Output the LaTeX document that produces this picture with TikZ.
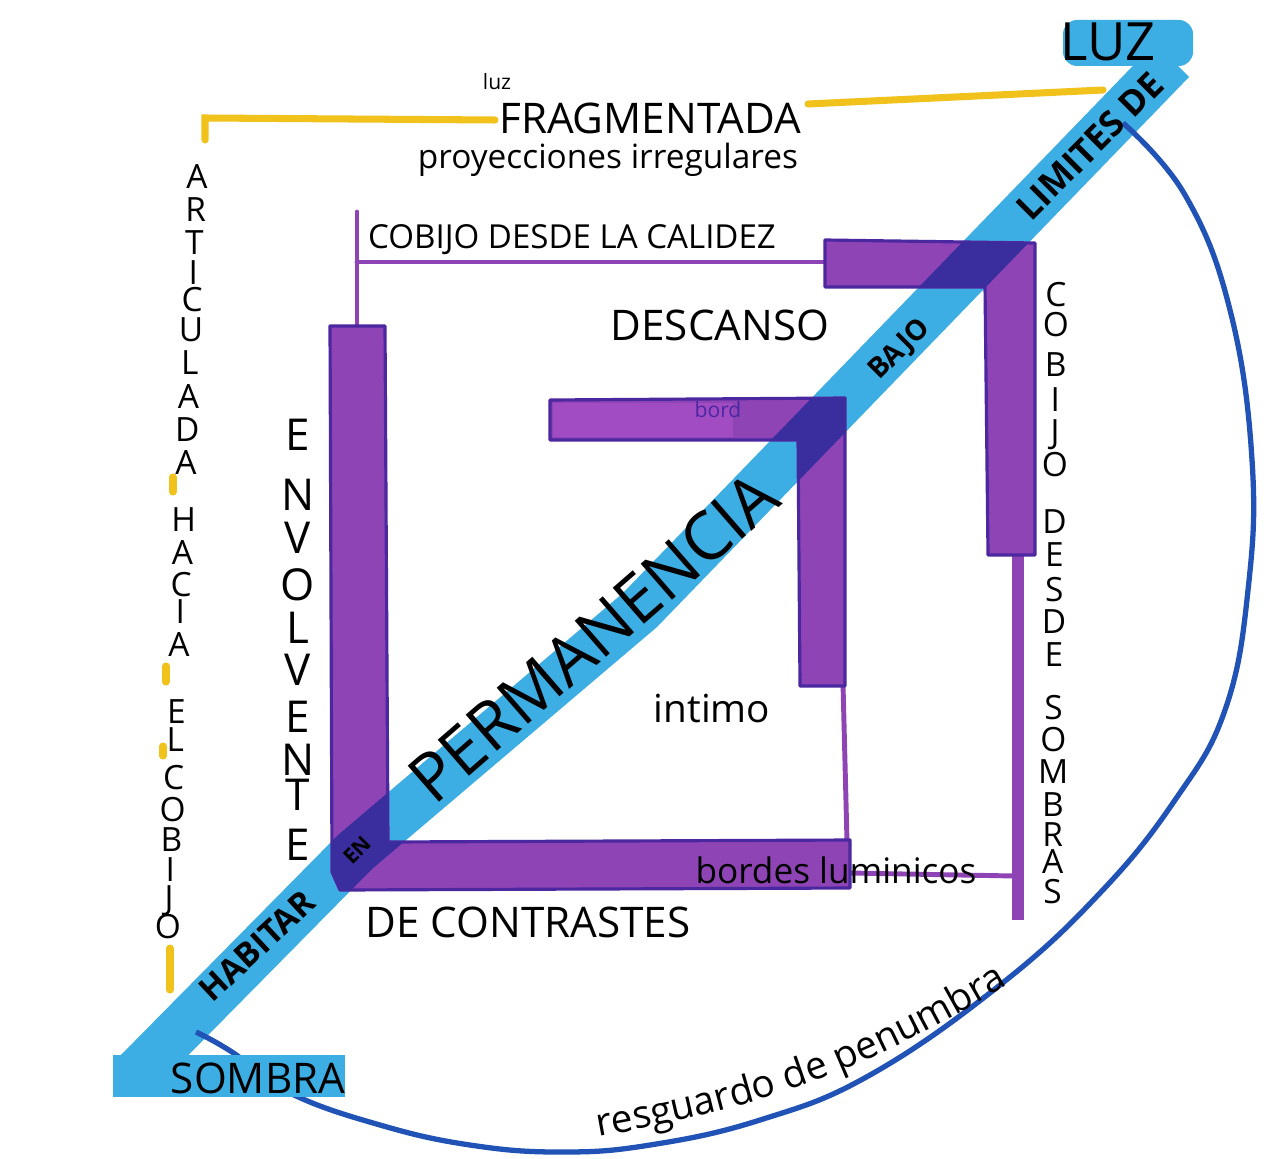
\documentclass[tikz,border=0pt]{standalone}
\usepackage{fontspec}
\setmainfont{Open Sans}
\usepackage{tikz}
\usetikzlibrary{decorations.text}
\definecolor{violeta}{HTML}{8E44B5}
\definecolor{violetaclaro}{HTML}{A24CC4}
\definecolor{violetaosc}{HTML}{4B27A0}
\definecolor{cruce}{HTML}{3A2E9E}
\definecolor{celeste}{HTML}{3DAEE3}
\definecolor{amarillo}{HTML}{F1C21B}
\definecolor{azul}{HTML}{2152B5}
% muros (contornos de las barras)
\newcommand{\muroizq}{(330,326) -- (385,326) -- (388,842) -- (850,840) -- (850,888) -- (340,890) -- (332,872) -- cycle}
\newcommand{\murocentro}{(550,400) -- (845,398) -- (845,686) -- (800,686) -- (798,440) -- (550,440) -- cycle}
\newcommand{\muroder}{(825,240) -- (1035,243) -- (1035,555) -- (988,555) -- (985,287) -- (825,287) -- cycle}

\begin{document}
\begin{tikzpicture}[x=0.01cm,y=-0.01cm,
		mano/.style={inner sep=0pt,font=\fontsize{#1}{#1}\selectfont},
		letra/.style={mano=9.5,text height=6.8pt,text depth=0pt},
		letragrande/.style={mano=12.5,text height=9pt,text depth=0pt},
		muro/.style={fill=violeta,draw=violetaosc,line width=0.9pt,line join=round},
		hilo/.style={draw=violeta,line width=1.4pt,line cap=round},
		trazo/.style={draw=amarillo,line width=2pt,line cap=round},
		arco/.style={draw=azul,line width=1.5pt}
	]
	\useasboundingbox (0,0) rectangle (1286,1158);
	\fill[white] (0,0) rectangle (1286,1158);

	% luz fragmentada (amarillo)
	\draw[trazo] (205,140) -- (205,118) -- (495,120);
	\draw[trazo] (808,104) -- (1103,90);
	\draw[trazo] (173,477) -- (173,492);
	\draw[trazo] (166,666) -- (166,682);
	\draw[trazo] (163,746) -- (163,756);
	\draw[trazo] (170,948) -- (170,990);

	% lineas finas
	\draw[hilo] (357,212) -- (357,328);
	\draw[hilo] (357,262) -- (828,262);
	\draw[hilo] (843,684) -- (847,842);
	\draw[hilo,line width=3.4pt,line cap=butt] (1018,552) -- (1018,920);
	\draw[hilo] (850,873) -- (1015,876);

	% franja diagonal
	\coordinate (b1) at (115,1061);
	\coordinate (b2) at (149,1095);
	\coordinate (e1) at (338,835);
	\coordinate (e2) at (372,869);
	\coordinate (m1) at (623,593);
	\coordinate (m2) at (657,627);
	\coordinate (t1) at (1155,43);
	\coordinate (t2) at (1189,77);
	\fill[celeste] (b1) -- (e1) -- (m1) -- (t1) -- (t2) -- (m2) -- (e2) -- (b2) -- cycle;

	% resguardo
	\coordinate (arcoini) at (196,1032);
	\coordinate (arcofin) at (1123,123);
	\draw[arco] plot[smooth,tension=0.7] coordinates {(arcoini) (232,1052) (290,1093) (380,1125) (470,1145)
		(560,1152) (650,1145) (760,1120) (870,1075) (1000,985) (1100,893) (1175,800) (1225,710)
		(1248,590) (1252,460) (1230,310) (1185,195) (arcofin)};

	\fill[celeste] (113,1055) rectangle (345,1097);
	\fill[celeste,rounded corners=4pt] (1063,20) rectangle (1193,66);

	% barras
	\path[muro] \muroizq;
	\path[muro] \murocentro;
	\fill[violetaclaro] (553,403) rectangle (733,437);
	\path[muro] \muroder;
	\begin{scope}
		\clip (b1) -- (e1) -- (m1) -- (t1) -- (t2) -- (m2) -- (e2) -- (b2) -- cycle;
		\fill[cruce] \muroizq;
		\fill[cruce] \murocentro;
		\fill[cruce] \muroder;
	\end{scope}

	% textos
	\node[mano=15] (luz) at (1108,42) {LUZ};
	\node[mano=6] (luzchica) at (497,82) {luz};
	\node[mano=12] (fragmentada) at (650,118) {FRAGMENTADA};
	\node[mano=9.5] (proyecciones) at (608,160) {proyecciones irregulares};
	\node[mano=9.4] (calidez) at (572,240) {COBIJO DESDE LA CALIDEZ};
	\node[mano=12] (descanso) at (720,325) {DESCANSO};
	\node[mano=6,text=violetaosc] (bord) at (718,410) {bord};
	\node[mano=19,rotate=41] (permanencia) at (593,637) {PERMANENCIA};
	\node[mano=11] (intimo) at (712,708) {intimo};
	\node[mano=12] (contrastes) at (528,922) {DE CONTRASTES};
	\node[mano=12] (sombra) at (258,1078) {SOMBRA};
	\node[mano=10] (bordes) at (836,870) {bordes luminicos};
	\node[mano=9.5,rotate=43] (habitar) at (257,946) {\bfseries HABITAR};
	\node[mano=6,rotate=45] (en) at (357,850) {\bfseries EN};
	\node[mano=8,rotate=45] (bajo) at (900,350) {\bfseries BAJO};
	\node[mano=10,rotate=45] (limites) at (1090,146) {\bfseries LIMITES DE};
	\path[decorate,decoration={text along path,text align=center,
		text={|\fontsize{11}{11}\selectfont|resguardo de penumbra}}] (608,1135) to[bend right=10] (1000,990);

	% columnas verticales
	\foreach \l/\y [count=\i] in {A/177,R/210,T/243,I/273,C/300,U/330,L/363,A/397,D/430,A/463,
		H/520,A/553,C/585,I/612,A/645,E/712,L/740,C/778,O/810,B/840,I/870,J/898,O/927}
	\node[letra] (art\i) at ({197-(\y-177)*0.0387},\y) {\l};
	\foreach \l/\y [count=\i] in {E/435,N/495,V/538,O/585,L/628,V/670,E/717,N/760,T/795,E/845}
	\node[letragrande] (env\i) at (298,\y) {\l};
	\foreach \l/\y [count=\i] in {C/295,O/325,B/365,I/400,J/432,O/465,D/522,E/555,S/590,D/622,E/655,
		S/708,O/740,M/772,B/805,R/835,A/862,S/892}
	\node[letra] (som\i) at ({1056-(\y-295)*0.006},\y) {\l};
\end{tikzpicture}
\end{document}
